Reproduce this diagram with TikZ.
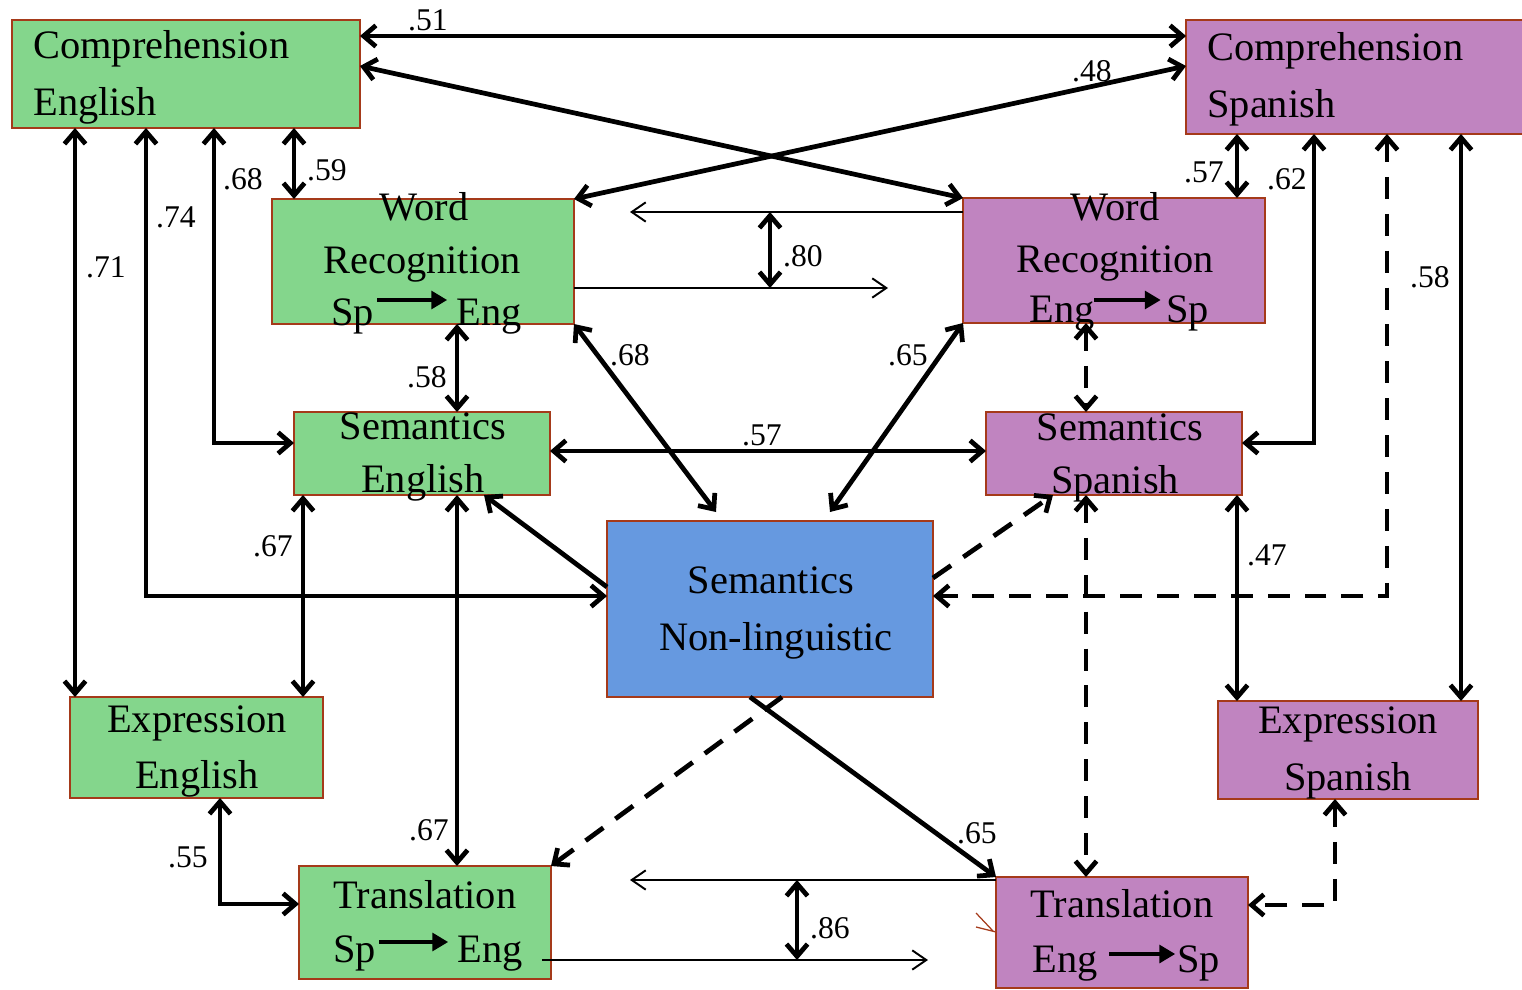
\documentclass[tikz,border=0pt]{standalone}
\usepackage{fontspec}
\setmainfont{Liberation Serif}
\usetikzlibrary{arrows.meta,calc}
\definecolor{grn}{HTML}{84D68C}
\definecolor{pur}{HTML}{C084C0}
\definecolor{blu}{HTML}{6699E0}
\definecolor{brd}{HTML}{A53A1A}
\tikzset{
  box/.style={draw=brd, line width=1.2pt, inner sep=0pt, outer sep=0pt},
  txt/.style={inner sep=0pt, anchor=base, font=\fontsize{23}{28}\selectfont},
  txtw/.style={txt, anchor=base west},
  lbl/.style={inner sep=0pt, anchor=base, font=\fontsize{18}{21}\selectfont},
  con/.style={line width=2.7pt},
  dsh/.style={con, dash pattern=on 12.5pt off 8.5pt},
  fine/.style={line width=1.1pt, -{Straight Barb[length=8pt,width=11pt]}},
  inarrow/.style={line width=2.6pt, -{Triangle[length=9pt,width=10pt]}},
}
\begin{document}
\begin{tikzpicture}[x=0.02cm, y=-0.02cm, >={Straight Barb[length=7pt,width=12pt]}]
\useasboundingbox (0,0) rectangle (1522,990);

% ---------- boxes ----------
\node[box, fill=grn, minimum width=6.96cm, minimum height=2.16cm] (ce) at (186,74) {};
\node[box, fill=pur, minimum width=6.88cm, minimum height=2.28cm] (cs) at (1358,77) {};
\node[box, fill=grn, minimum width=6.04cm, minimum height=2.5cm]  (we) at (423,261.5) {};
\node[box, fill=pur, minimum width=6.04cm, minimum height=2.5cm]  (ws) at (1114,260.5) {};
\node[box, fill=grn, minimum width=5.12cm, minimum height=1.66cm] (se) at (422,453.5) {};
\node[box, fill=pur, minimum width=5.12cm, minimum height=1.66cm] (ss) at (1114,453.5) {};
\node[box, fill=blu, minimum width=6.52cm, minimum height=3.52cm] (nl) at (770,609) {};
\node[box, fill=grn, minimum width=5.06cm, minimum height=2.02cm] (ee) at (196.5,747.5) {};
\node[box, fill=pur, minimum width=5.2cm,  minimum height=1.96cm] (es) at (1348,750) {};
\node[box, fill=grn, minimum width=5.04cm, minimum height=2.26cm] (te) at (425,922.5) {};
\node[box, fill=pur, minimum width=5.04cm, minimum height=2.22cm] (ts) at (1122,932.5) {};

% ---------- box texts ----------
\node[txtw] (ce1) at (33,59)  {Comprehension};
\node[txtw] (ce2) at (33,115) {English};
\node[txtw] (cs1) at (1207,61)  {Comprehension};
\node[txtw] (cs2) at (1207,118) {Spanish};

\node[txt] (we1) at (424,220) {Word};
\node[txt] (we2) at (422,273) {Recognition};
\node[txtw] (wea) at (331,325) {Sp};
\node[txtw] (web) at (456,325) {Eng};
\draw[inarrow, shorten >=5pt] (377,300) -- (web.west |- 0,300);

\node[txt] (ws1) at (1115,220) {Word};
\node[txt] (ws2) at (1115,272) {Recognition};
\node[txtw] (wsa) at (1029,322) {Eng};
\node[txtw] (wsb) at (1166,322) {Sp};
\draw[inarrow, shorten >=3pt] (1094,300) -- (wsb.west |- 0,300);

\node[txt] (se1) at (423,439) {Semantics};
\node[txt] (se2) at (423,492) {English};
\node[txt] (ss1) at (1120,440) {Semantics};
\node[txt] (ss2) at (1115,493) {Spanish};

\node[txt] (nl1) at (771,593) {Semantics};
\node[txt] (nl2) at (776,650) {Non-linguistic};

\node[txt] (ee1) at (197,732) {Expression};
\node[txt] (ee2) at (197,788) {English};
\node[txt] (es1) at (1348,733) {Expression};
\node[txt] (es2) at (1348,790) {Spanish};

\node[txt] (te1) at (425,908) {Translation};
\node[txtw] (tea) at (333,962) {Sp};
\node[txtw] (teb) at (457,962) {Eng};
\draw[inarrow, shorten >=5pt] (379,942) -- (teb.west |- 0,942);

\node[txt] (ts1) at (1122,917) {Translation};
\node[txtw] (tsa) at (1032,972) {Eng};
\node[txtw] (tsb) at (1177,972) {Sp};
\draw[inarrow, shorten >=1pt] (1109,954) -- (tsb.west |- 0,954);

% ---------- free ends ----------
\coordinate (wrL) at (630,212);
\coordinate (wrR) at (888,288);
\coordinate (wrA) at (770,212);
\coordinate (wrB) at (770,288);
\coordinate (trL) at (630,880);
\coordinate (trR) at (928,960);
\coordinate (trA) at (797,880);
\coordinate (trB) at (797,960);
\coordinate (nlA) at (716,512);
\coordinate (nlB) at (830,512);

% ---------- connectors: top ----------
\draw[con,<->] (ce.east |- 0,36) -- (cs.west |- 0,36);
\draw[con,<->] (ce.east |- 0,66) -- (ws.north west);
\draw[con,<->] (cs.west |- 0,66) -- (we.north east);

% English side
\draw[con,<->] (ce.south -| 75,0) -- (ee.north -| 75,0);
\draw[con,<->] (ce.south -| 146,0) |- (nl.west |- 0,596);
\draw[con,<->] (ce.south -| 214,0) |- (se.west |- 0,443);
\draw[con,<->] (ce.south -| 294,0) -- (we.north -| 294,0);
\draw[con,<->] (we.south -| 457,0) -- (se.north -| 457,0);
\draw[con,<->] (we.south east) -- (nlA);
\draw[con,<->] (se.south -| 303,0) -- (ee.north -| 303,0);
\draw[con,<->] (se.south -| 457,0) -- (te.north -| 457,0);
\draw[con,->]  (nl.west |- 0,587) -- (se.south -| 484,0);
\draw[con,<->] (ee.south -| 220,0) |- (te.west |- 0,904);

% word recognition cross links
\draw[fine] (ws.west |- wrL) -- (wrL);
\draw[fine] (we.east |- wrR) -- (wrR);
\draw[con,<->] (wrA) -- (wrB);

% translation cross links
\draw[fine] (ts.west |- trL) -- (trL);
\draw[fine] ([xshift=-5pt]te.east |- trR) -- (trR);
\draw[con,<->] (trA) -- (trB);

% middle
\draw[con,<->] (ws.south west) -- (nlB);
\draw[con,<->] (se.east |- 0,451) -- (ss.west |- 0,451);
\draw[con,->]  (nl.south -| 750,0) -- (ts.north west);
\draw[dsh,->]  (nl.south -| 782,0) -- (te.north east);

% Spanish side
\draw[con,<->] (cs.south -| 1237,0) -- (ws.north -| 1237,0);
\draw[con,<->] (cs.south -| 1314,0) |- (ss.east |- 0,443);
\draw[dsh,<->] (cs.south -| 1387,0) |- (nl.east |- 0,596);
\draw[con,<->] (cs.south -| 1461,0) -- (es.north -| 1461,0);
\draw[dsh,<->] (ws.south -| 1086,0) -- (ss.north -| 1086,0);
\draw[dsh,->]  (nl.east |- 0,578) -- (ss.south -| 1053,0);
\draw[dsh,<->] (ss.south -| 1086,0) -- (ts.north -| 1086,0);
\draw[con,<->] (ss.south -| 1237,0) -- (es.north -| 1237,0);
\draw[dsh,<->] (es.south -| 1335,0) |- (ts.east |- 0,905);

% small stray mark at the Spanish translation box
\draw[brd, line width=0.7pt] (976,913) -- (993,931) (976,927) -- (996,932);

% ---------- coefficients ----------
\node[lbl] (l51) at (428,31) {.51};
\node[lbl] (l48) at (1092,82) {.48};
\node[lbl] (l71) at (106,277) {.71};
\node[lbl] (l74) at (176,227) {.74};
\node[lbl] (l68a) at (243,190) {.68};
\node[lbl] (l59) at (327,180) {.59};
\node[lbl] (l80) at (803,266) {.80};
\node[lbl] (l57a) at (1204,182) {.57};
\node[lbl] (l62) at (1287,190) {.62};
\node[lbl] (l58a) at (1430,287) {.58};
\node[lbl] (l58b) at (427,387) {.58};
\node[lbl] (l68b) at (630,365) {.68};
\node[lbl] (l65a) at (908,365) {.65};
\node[lbl] (l57b) at (762,445) {.57};
\node[lbl] (l67a) at (273,556) {.67};
\node[lbl] (l47) at (1267,565) {.47};
\node[lbl] (l55) at (188,867) {.55};
\node[lbl] (l67b) at (429,840) {.67};
\node[lbl] (l65b) at (977,843) {.65};
\node[lbl] (l86) at (830,938) {.86};
\end{tikzpicture}
\end{document}
